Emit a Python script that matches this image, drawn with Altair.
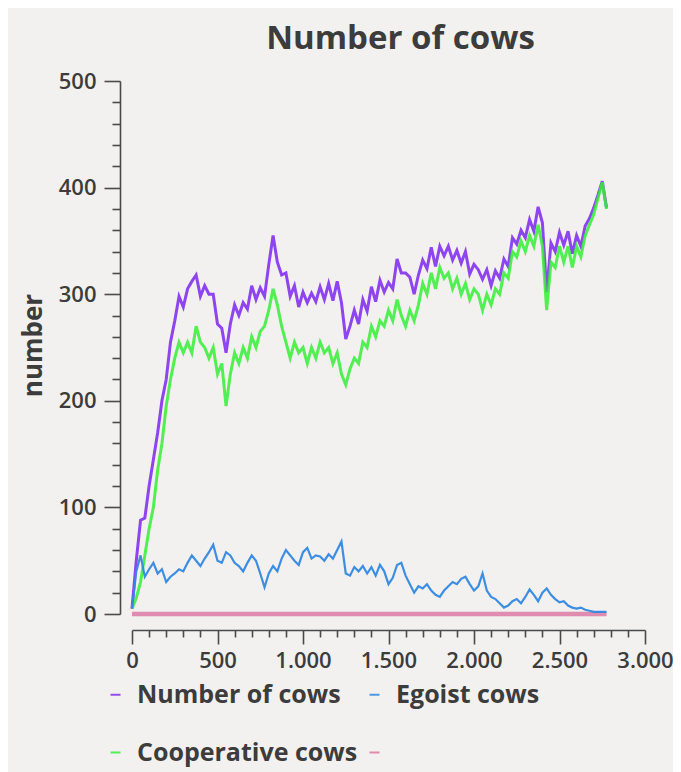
import altair as alt
import pandas as pd

# x positions (ticks of the simulation), one value every 25 ticks
ticks = list(range(0, 2800, 25))

number_of_cows = [
    5, 50, 88, 90, 120, 145, 170, 200,
    220, 255, 275, 298, 288, 305, 312, 318,
    298, 308, 300, 300, 272, 268, 245, 272,
    290, 280, 292, 286, 308, 295, 306, 298,
    328, 355, 330, 318, 320, 298, 308, 288,
    302, 292, 301, 293, 307, 295, 310, 294,
    312, 292, 258, 270, 285, 272, 295, 284,
    307, 293, 313, 302, 311, 305, 333, 320,
    320, 316, 300, 318, 332, 324, 344, 326,
    345, 336, 345, 332, 341, 329, 340, 319,
    328, 323, 314, 323, 308, 322, 315, 333,
    326, 353, 347, 360, 353, 370, 359, 382,
    367, 302, 348, 340, 358, 346, 359, 338,
    355, 345, 364, 371, 381, 393, 406, 381,
]

cooperative_cows = [
    5, 15, 30, 55, 80, 100, 135, 160,
    195, 220, 240, 255, 245, 255, 245, 270,
    255, 250, 240, 250, 225, 235, 195, 225,
    245, 235, 250, 240, 260, 250, 265, 270,
    285, 305, 290, 270, 255, 240, 255, 245,
    250, 235, 250, 240, 255, 245, 250, 235,
    245, 225, 215, 230, 240, 235, 255, 250,
    270, 260, 275, 270, 285, 275, 295, 280,
    270, 285, 275, 290, 310, 300, 320, 305,
    325, 315, 320, 305, 315, 300, 310, 295,
    305, 300, 285, 300, 290, 305, 300, 320,
    315, 340, 335, 350, 340, 355, 345, 365,
    345, 285, 330, 325, 345, 330, 345, 325,
    345, 335, 355, 365, 375, 390, 405, 380,
]

egoist_cows = [
    5, 40, 55, 35, 42, 48, 38, 42,
    30, 35, 38, 42, 40, 48, 55, 50,
    45, 52, 58, 65, 50, 48, 58, 55,
    48, 45, 40, 48, 55, 50, 38, 25,
    38, 45, 40, 52, 60, 55, 50, 46,
    58, 62, 52, 55, 54, 50, 56, 52,
    60, 68, 38, 36, 44, 40, 45, 38,
    44, 36, 46, 40, 28, 34, 46, 48,
    36, 28, 20, 26, 24, 28, 22, 18,
    16, 22, 26, 30, 28, 33, 35, 28,
    22, 26, 38, 22, 16, 14, 10, 6,
    8, 12, 14, 10, 16, 23, 18, 12,
    20, 24, 18, 14, 11, 12, 8, 6,
    5, 6, 4, 3, 2, 2, 2, 2,
]

baseline_ticks = [0, 2775]
baseline_values = [0, 0]

# legend fills column by column: col 1 = Number / Cooperative, col 2 = Egoist / ""
series_names = ["Number of cows", "Cooperative cows", "Egoist cows", ""]
series_colors = ["#8331ee", "#35ef35", "#3388e2", "#dc7aa4"]

rows = []
for t, v in zip(ticks, number_of_cows):
    rows.append({"tick": t, "value": v, "series": "Number of cows"})
for t, v in zip(ticks, egoist_cows):
    rows.append({"tick": t, "value": v, "series": "Egoist cows"})
for t, v in zip(ticks, cooperative_cows):
    rows.append({"tick": t, "value": v, "series": "Cooperative cows"})
for t, v in zip(baseline_ticks, baseline_values):
    rows.append({"tick": t, "value": v, "series": ""})
df = pd.DataFrame(rows)

FONT = "Open Sans"
AXIS_COLOR = "#4a4a4a"
TEXT_COLOR = "#3c3c3c"

x_enc = alt.X(
    "tick:Q",
    scale=alt.Scale(domain=[0, 3000], nice=False, zero=False),
    axis=alt.Axis(
        values=list(range(0, 3001, 100)),
        labelExpr="datum.value % 500 === 0 ? replace(format(datum.value, ','), ',', '.') : ''",
        tickSize={"condition": {"test": "datum.value % 500 === 0", "value": 14}, "value": 7},
        offset=16,
        title=None,
        grid=False,
        domainColor=AXIS_COLOR,
        domainWidth=1.6,
        tickColor=AXIS_COLOR,
        tickWidth=1.6,
        labelFont=FONT,
        labelFontSize=22,
        labelFontWeight=600,
        labelColor=TEXT_COLOR,
        labelPadding=6,
        labelFlush=False,
        labelOverlap=False,
    ),
)

y_enc = alt.Y(
    "value:Q",
    scale=alt.Scale(domain=[0, 500], nice=False),
    axis=alt.Axis(
        values=list(range(0, 501, 20)),
        labelExpr="datum.value % 100 === 0 ? datum.label : ''",
        tickSize={"condition": {"test": "datum.value % 100 === 0", "value": 16}, "value": 8},
        offset=12,
        title="number",
        titleFont=FONT,
        titleFontSize=26,
        titleFontWeight="bold",
        titleColor=TEXT_COLOR,
        titleAngle=270,
        titleBaseline="middle",
        titleAlign="center",
        titleX=-87,
        titleY=264,
        grid=False,
        domainColor=AXIS_COLOR,
        domainWidth=1.6,
        tickColor=AXIS_COLOR,
        tickWidth=1.6,
        labelFont=FONT,
        labelFontSize=22,
        labelFontWeight=600,
        labelColor=TEXT_COLOR,
        labelPadding=8,
        labelFlush=False,
        labelOverlap=False,
    ),
)

color_enc = alt.Color(
    "series:N",
    scale=alt.Scale(domain=series_names, range=series_colors),
    legend=alt.Legend(
        title=None,
        orient="none",
        legendX=-29,
        legendY=601,
        columns=2,
        gridAlign="all",
        columnPadding=4,
        rowPadding=32,
        padding=0,
        symbolType="stroke",
        symbolSize=100,
        symbolStrokeWidth=2,
        labelFont=FONT,
        labelFontSize=25,
        labelFontWeight="bold",
        labelColor=TEXT_COLOR,
        labelOffset=9,
        labelLimit=400,
    ),
)

def series_layer(name, width, opacity):
    return (
        alt.Chart(df)
        .transform_filter(alt.datum.series == name)
        .mark_line(strokeWidth=width, opacity=opacity)
        .encode(x=x_enc, y=y_enc, color=color_enc)
    )

chart = alt.layer(
    series_layer("", 4.5, 0.85),
    series_layer("Number of cows", 3, 0.9),
    series_layer("Cooperative cows", 3, 0.85),
    series_layer("Egoist cows", 2.2, 0.95),
).properties(
    width=513,
    height=533,
    padding={"left": 124, "top": 73, "right": 28, "bottom": 158},
    autosize=alt.AutoSizeParams(type="none"),
    background="#f2f1f0",
    title=alt.TitleParams(
        "Number of cows",
        font=FONT,
        fontSize=33,
        fontWeight="bold",
        color=TEXT_COLOR,
        anchor="middle",
        frame="group",
        baseline="alphabetic",
        offset=31,
        dx=12,
        dy=43,
    ),
).configure_view(strokeWidth=0)

chart.save("out.html", embed_options={"renderer": "svg", "actions": False})
